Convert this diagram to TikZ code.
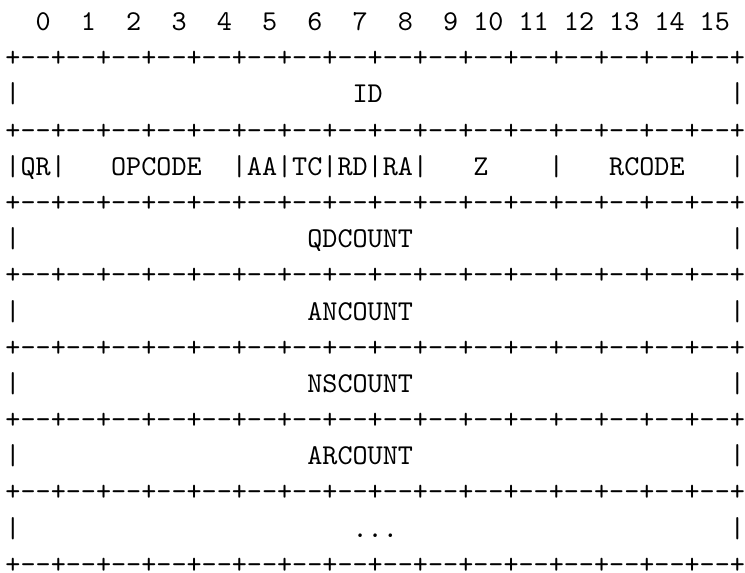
\documentclass[tikz,border=0pt]{standalone}
\usepackage{fontspec}
\setmonofont{Latin Modern Mono}
\usetikzlibrary{positioning}
\tikzset{
  ch/.style={anchor=base west,inner sep=0pt,outer sep=0pt,font=\ttfamily},
  bitnum/.style={ch,anchor=base east},
  bar/.style={ch},
  fieldname/.style={ch},
}
\newcommand\dashrow{+\foreach \k in {1,...,16}{-{}-+}}

\begin{document}
\begin{tikzpicture}[x=5.25pt,y=-12.59pt]
  \useasboundingbox (-0.364,-0.842) rectangle (49,14.963);
  % bit numbers
  \foreach \b in {0,...,15}
    \node[bitnum] (bit\b) at (3*\b+3,0) {\b};
  % separator rows
  \foreach \r in {1,3,...,15}
    \node[ch] (sep\r) at (0,\r) {\dashrow};
  % outer bars of the one-field rows
  \foreach \r in {2,6,8,10,12,14} {
    \node[bar] (lbar\r) at (0,\r) {|};
    \node[bar] (rbar\r) at (48,\r) {|};
  }
  % bars of the flags row
  \foreach \c in {0,3,15,18,21,24,27,36,48}
    \node[bar] (fbar\c) at (\c,4) {|};
  % field names
  \node[fieldname] (id) at (23,2) {ID};
  \node[fieldname] (qr) at (1,4) {QR};
  \node[fieldname] (opcode) at (7,4) {OPCODE};
  \node[fieldname] (aa) at (16,4) {AA};
  \node[fieldname] (tc) at (19,4) {TC};
  \node[fieldname] (rd) at (22,4) {RD};
  \node[fieldname] (ra) at (25,4) {RA};
  \node[fieldname] (z) at (31,4) {Z};
  \node[fieldname] (rcode) at (40,4) {RCODE};
  \node[fieldname] (qdcount) at (20,6) {QDCOUNT};
  \node[fieldname] (ancount) at (20,8) {ANCOUNT};
  \node[fieldname] (nscount) at (20,10) {NSCOUNT};
  \node[fieldname] (arcount) at (20,12) {ARCOUNT};
  \node[fieldname] (more) at (23,14) {...};
\end{tikzpicture}
\end{document}
